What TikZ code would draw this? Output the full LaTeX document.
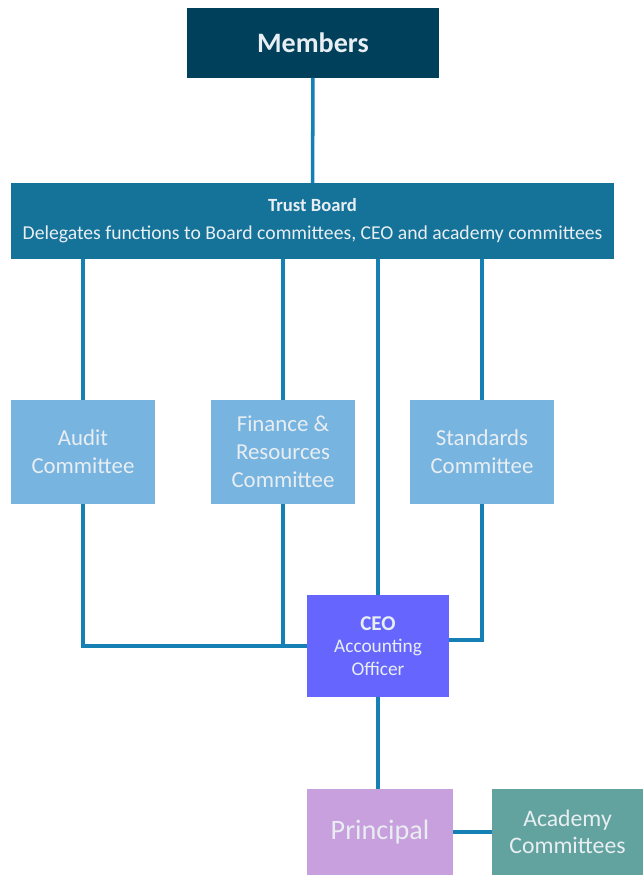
\documentclass[tikz,border=0pt]{standalone}
\usepackage{fontspec}
\setmainfont{Carlito}
\usetikzlibrary{positioning}

\definecolor{membersblue}{RGB}{0,64,90}
\definecolor{trustblue}{RGB}{21,115,154}
\definecolor{committeeblue}{RGB}{120,180,224}
\definecolor{ceoviolet}{RGB}{102,102,255}
\definecolor{principallilac}{RGB}{201,160,222}
\definecolor{academyteal}{RGB}{98,163,159}
\definecolor{linkblue}{RGB}{20,128,180}
\definecolor{paletext}{RGB}{232,238,242}

\tikzset{
  box/.style={inner sep=0pt, outer sep=0pt, align=center, text=paletext},
  committee/.style={box, fill=committeeblue, minimum width=2.88cm, minimum height=2.1cm,
    font=\fontsize{13}{16}\selectfont},
  link/.style={draw=linkblue, line width=2pt}
}

\begin{document}
\begin{tikzpicture}[x=0.02cm, y=-0.02cm]
    % পৃষ্ঠার সীমা
    \useasboundingbox (0,0) rectangle (643,875);

    % উপরের দুটি বাক্স
    \node[box, fill=membersblue, minimum width=5.04cm, minimum height=1.4cm,
      font=\fontsize{16}{20}\selectfont\bfseries] (members) at (313,43) {Members};
    \node[box, fill=trustblue, minimum width=12.06cm, minimum height=1.52cm,
      font=\fontsize{11.2}{16}\selectfont] (trust) at (312.5,221)
      {{\fontsize{10.6}{16}\selectfont\bfseries Trust Board}\\Delegates functions to Board committees, CEO and academy committees};

    % কমিটিসমূহ
    \node[committee] (audit) at (83,452) {Audit\\Committee};
    \node[committee] (finance) at (283,452) {Finance \&\\Resources\\Committee};
    \node[committee] (standards) at (482,452) {Standards\\Committee};

    % CEO, Principal ও Academy
    \node[box, fill=ceoviolet, minimum width=2.86cm, minimum height=2.06cm,
      font=\fontsize{11}{13}\selectfont] (ceo) at (378,646)
      {{\fontsize{12}{16}\selectfont\bfseries CEO}\\Accounting\\Officer};
    \node[box, fill=principallilac, minimum width=2.92cm, minimum height=1.72cm,
      font=\fontsize{16}{20}\selectfont] (principal) at (380,832) {Principal};
    \node[box, fill=academyteal, minimum width=3.02cm, minimum height=1.72cm,
      font=\fontsize{13.5}{15.5}\selectfont] (academy) at (567.5,832) {Academy\\Committees};

    % সংযোগ রেখা
    \draw[link] (members) -- (trust);
    \draw[link] (audit.north) -- (audit.north |- trust.south);
    \draw[link] (finance.north) -- (finance.north |- trust.south);
    \draw[link] (standards.north) -- (standards.north |- trust.south);
    \draw[link] (ceo.north) -- (ceo.north |- trust.south);

    \draw[link] (audit.south) |- (ceo.west);
    \draw[link] (finance.south) -- (finance.south |- ceo.west);
    \draw[link] (standards.south) |- ([yshift=0.12cm]ceo.east);

    \draw[link] (ceo.south) -- (ceo.south |- principal.north);
    \draw[link] (principal.east) -- (academy.west);
\end{tikzpicture}
\end{document}
